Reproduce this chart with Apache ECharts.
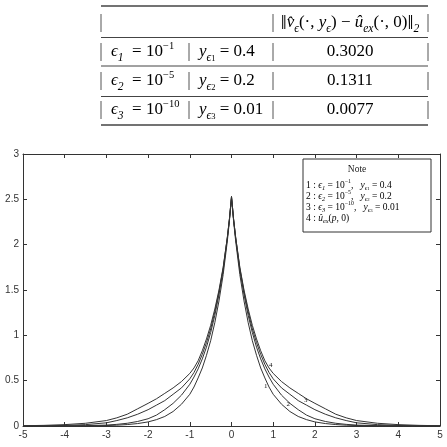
<!DOCTYPE html>
<html>
<head>
<meta charset="utf-8">
<script src="https://cdn.jsdelivr.net/npm/echarts@6/dist/echarts.min.js"></script>
<style>
  html, body { margin: 0; padding: 0; background: #fff; }
  #chart { width: 447px; height: 447px; }
</style>
</head>
<body>
<div id="chart"></div>
<script>
// p 轴取样点
const xs = [-5, -4.5, -4, -3.5, -3, -2.75, -2.5, -2.25, -2, -1.8, -1.6, -1.4, -1.2, -1, -0.9, -0.8, -0.7, -0.6, -0.5, -0.4, -0.3, -0.2, -0.1, -0.05,
  0, 0.05, 0.1, 0.2, 0.3, 0.4, 0.5, 0.6, 0.7, 0.8, 0.9, 1, 1.2, 1.4, 1.6, 1.8, 2, 2.25, 2.5, 2.75, 3, 3.5, 4, 4.5, 5]

// 曲线 1: eps1 = 1e-1, y = 0.4
const curve1 = [0, 0, 0.001, 0.002, 0.005, 0.009, 0.016, 0.027, 0.045, 0.07, 0.105, 0.16, 0.24, 0.35, 0.43, 0.53, 0.64, 0.78, 0.94, 1.14, 1.38, 1.67, 2.04, 2.26,
  2.51, 2.26, 2.04, 1.67, 1.38, 1.14, 0.94, 0.78, 0.64, 0.53, 0.43, 0.35, 0.24, 0.16, 0.105, 0.07, 0.045, 0.027, 0.016, 0.009, 0.005, 0.002, 0.001, 0, 0]
// 曲线 2: eps2 = 1e-5, y = 0.2
const curve2 = [0, 0, 0.001, 0.004, 0.01, 0.018, 0.03, 0.05, 0.08, 0.12, 0.18, 0.25, 0.34, 0.46, 0.54, 0.63, 0.74, 0.87, 1.03, 1.22, 1.45, 1.72, 2.07, 2.28,
  2.53, 2.28, 2.07, 1.72, 1.45, 1.22, 1.03, 0.87, 0.74, 0.63, 0.54, 0.46, 0.34, 0.25, 0.18, 0.12, 0.08, 0.05, 0.03, 0.018, 0.01, 0.004, 0.001, 0, 0]
// 曲线 3: eps3 = 1e-10, y = 0.01
const curve3 = [0, 0.002, 0.006, 0.015, 0.035, 0.06, 0.09, 0.13, 0.18, 0.23, 0.28, 0.35, 0.42, 0.52, 0.59, 0.68, 0.79, 0.92, 1.07, 1.26, 1.48, 1.74, 2.08, 2.28,
  2.53, 2.28, 2.08, 1.74, 1.48, 1.26, 1.07, 0.92, 0.79, 0.68, 0.59, 0.52, 0.42, 0.35, 0.28, 0.23, 0.18, 0.13, 0.09, 0.06, 0.035, 0.015, 0.006, 0.002, 0]
// 曲线 4: 精确解 u_ex(p, 0)
const curve4 = [0.003, 0.007, 0.015, 0.03, 0.06, 0.09, 0.13, 0.19, 0.25, 0.30, 0.36, 0.42, 0.49, 0.58, 0.64, 0.72, 0.83, 0.96, 1.11, 1.29, 1.50, 1.75, 2.08, 2.28,
  2.53, 2.28, 2.08, 1.75, 1.50, 1.29, 1.11, 0.96, 0.83, 0.72, 0.64, 0.58, 0.49, 0.42, 0.36, 0.30, 0.25, 0.19, 0.13, 0.09, 0.06, 0.03, 0.015, 0.007, 0.003]

const curveNames = ['1', '2', '3', '4']
const curveTags = [[0.82, 0.44], [1.36, 0.24], [1.78, 0.28], [0.94, 0.67]]

// 表格内容
const tableHeader = '{big|‖}{i|v̂}{sub|ϵ}{n|(·, }{i|y}{sub|ϵ}{n|) − }{i|û}{sub|ex}{n|(·, 0)}{big|‖}{sub|2}'
const tableEps = ['{i|ϵ}{sub|1}{n|\u2002= 10}{sup|−1}', '{i|ϵ}{sub|2}{n|\u2002= 10}{sup|−5}', '{i|ϵ}{sub|3}{n|\u2002= 10}{sup|−10}']
const tableY = ['{i|y}{sub|ϵ}{ss|1}{n| = 0.4}', '{i|y}{sub|ϵ}{ss|2}{n| = 0.2}', '{i|y}{sub|ϵ}{ss|3}{n| = 0.01}']
const tableErr = ['0.3020', '0.1311', '0.0077']

// 注释框
const noteLines = [
  '{n|1 : }{i|ϵ}{sub|1}{n| = 10}{sup|−1}{n|,   }{i|y}{sub|ϵ}{ss|1}{n| = 0.4}',
  '{n|2 : }{i|ϵ}{sub|2}{n| = 10}{sup|−5}{n|,   }{i|y}{sub|ϵ}{ss|2}{n| = 0.2}',
  '{n|3 : }{i|ϵ}{sub|3}{n| = 10}{sup|−10}{n|,   }{i|y}{sub|ϵ}{ss|3}{n| = 0.01}',
  '{n|4 : }{i|û}{sub|ex}{n|(}{i|p}{n|, 0)}'
]

const serif = 'Liberation Serif'
const ink = '#222'

function richStyles(size) {
  const lh = Math.round(size * 1.35)
  return {
    n: { fontSize: size, fontFamily: serif, lineHeight: lh, verticalAlign: 'middle', color: ink },
    big: { fontSize: size * 1.25, fontFamily: serif, lineHeight: lh, verticalAlign: 'middle', color: ink },
    i: { fontSize: size, fontFamily: serif, fontStyle: 'italic', lineHeight: lh, verticalAlign: 'middle', color: ink },
    sub: { fontSize: size * 0.68, fontFamily: serif, fontStyle: 'italic', lineHeight: size * 0.68, verticalAlign: 'bottom', color: ink },
    ss: { fontSize: size * 0.5, fontFamily: serif, lineHeight: size * 0.5, verticalAlign: 'bottom', color: ink },
    sup: { fontSize: size * 0.62, fontFamily: serif, lineHeight: size * 0.62, verticalAlign: 'top', color: ink }
  }
}

const chart = echarts.init(document.getElementById('chart'), null, { renderer: 'canvas' })

function buildGraphic() {
  const g = []
  const tblRich = richStyles(17)
  // 横线
  const hLines = [6, 37.5, 66, 96.5, 125]
  hLines.forEach((y, k) => {
    g.push({
      type: 'line', silent: true,
      shape: { x1: 101, y1: y, x2: 428, y2: y },
      style: { stroke: '#444', lineWidth: (k === 0 || k === hLines.length - 1) ? 1.4 : 1 }
    })
  })
  // 竖线（文字中的 | ）
  const rowsY = [23, 52, 81, 110]
  rowsY.forEach((cy, r) => {
    const xsBar = r === 0 ? [101, 273, 428] : [101, 189, 273, 428]
    xsBar.forEach(bx => {
      g.push({
        type: 'line', silent: true,
        shape: { x1: bx, y1: cy - 9, x2: bx, y2: cy + 9 },
        style: { stroke: '#555', lineWidth: 1 }
      })
    })
  })
  g.push({
    type: 'text', silent: true,
    style: { text: tableHeader, rich: tblRich, x: 350, y: 23, align: 'center', verticalAlign: 'middle' }
  })
  for (let r = 0; r < 3; r++) {
    const cy = rowsY[r + 1]
    g.push({ type: 'text', silent: true, style: { text: tableEps[r], rich: tblRich, x: 111, y: cy, align: 'left', verticalAlign: 'middle' } })
    g.push({ type: 'text', silent: true, style: { text: tableY[r], rich: tblRich, x: 199, y: cy, align: 'left', verticalAlign: 'middle' } })
    g.push({ type: 'text', silent: true, style: { text: '{n|' + tableErr[r] + '}', rich: tblRich, x: 350, y: cy, align: 'center', verticalAlign: 'middle' } })
  }
  // 注释框
  const noteRich = richStyles(9.5)
  g.push({
    type: 'rect', silent: true,
    shape: { x: 303, y: 159, width: 128, height: 73 },
    style: { fill: '#fff', stroke: '#333', lineWidth: 1 }
  })
  g.push({ type: 'text', silent: true, style: { text: 'Note', x: 357, y: 169, align: 'center', verticalAlign: 'middle', font: '9.5px "Liberation Serif"', fill: ink } })
  const noteY = [185, 196, 207, 218]
  noteLines.forEach((t, k) => {
    g.push({ type: 'text', silent: true, style: { text: t, rich: noteRich, x: 306, y: noteY[k], align: 'left', verticalAlign: 'middle' } })
  })
  return g
}

const axisCommon = {
  type: 'value',
  axisLine: { show: true, onZero: false, lineStyle: { color: '#333', width: 1 } },
  axisTick: { show: true, inside: true, length: 4, lineStyle: { color: '#333' } },
  splitLine: { show: false },
  axisLabel: { fontSize: 10, color: '#333', fontFamily: 'Liberation Sans', margin: 4 }
}

const series = [curve1, curve2, curve3, curve4].map((c, k) => ({
  name: curveNames[k],
  type: 'line',
  xAxisIndex: 0,
  yAxisIndex: 0,
  showSymbol: false,
  symbol: 'none',
  smooth: false,
  lineStyle: { color: '#333', width: 1 },
  data: xs.map((x, i) => [x, c[i]]),
  markPoint: {
    silent: true,
    symbol: 'circle',
    symbolSize: 0,
    data: [{ coord: curveTags[k], value: curveNames[k] }],
    label: { show: true, position: 'inside', formatter: curveNames[k], fontSize: 7, fontFamily: serif, color: '#111' }
  }
}))

chart.setOption({
  animation: false,
  backgroundColor: '#fff',
  grid: { left: 23, right: 7, top: 154, bottom: 21, outerBoundsMode: 'none' },
  xAxis: [
    Object.assign({}, axisCommon, { min: -5, max: 5, interval: 1, position: 'bottom' }),
    Object.assign({}, axisCommon, { min: -5, max: 5, interval: 1, position: 'top', axisLabel: { show: false } })
  ],
  yAxis: [
    Object.assign({}, axisCommon, { min: 0, max: 3, interval: 0.5, position: 'left' }),
    Object.assign({}, axisCommon, { min: 0, max: 3, interval: 0.5, position: 'right', axisLabel: { show: false } })
  ],
  series: series,
  graphic: buildGraphic()
})
</script>
</body>
</html>
